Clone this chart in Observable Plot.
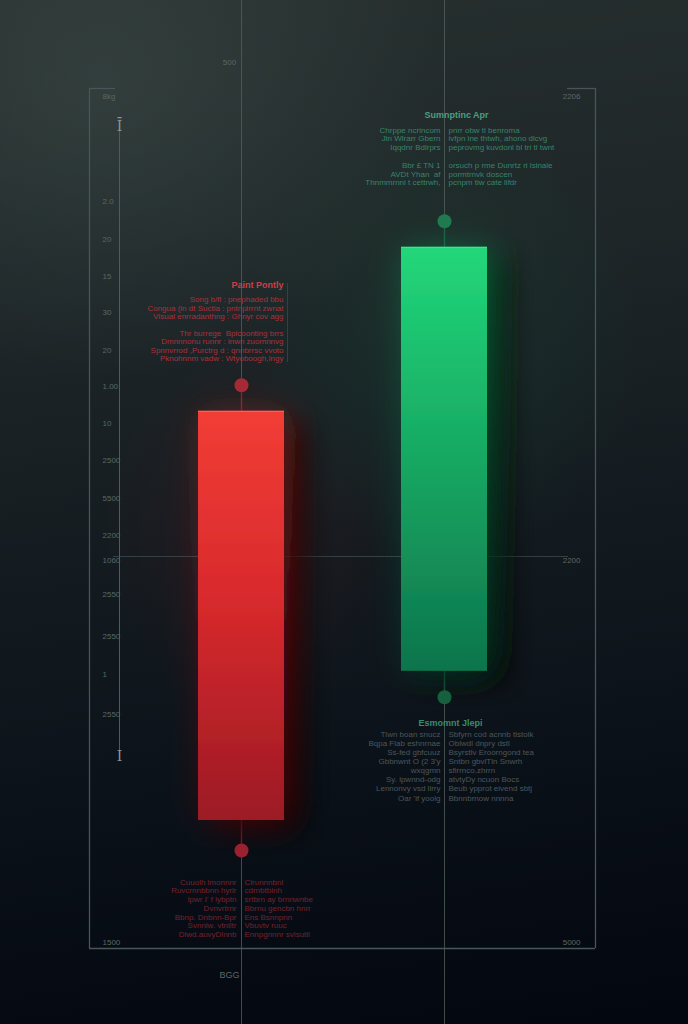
<!DOCTYPE html>
<html>
<head>
<meta charset="utf-8">
<script src="https://cdn.jsdelivr.net/npm/d3@7"></script>
<script src="https://cdn.jsdelivr.net/npm/@observablehq/plot@0.6"></script>
<style>
html,body{margin:0;padding:0;}
body{width:688px;height:1024px;overflow:hidden;background:#060b12;}
#chart{position:relative;width:688px;height:1024px;
background:
 radial-gradient(ellipse 38% 30% at 64% 33%, rgba(22,95,62,0.22), rgba(0,0,0,0) 75%),
 radial-gradient(ellipse 30% 25% at 36% 52%, rgba(120,20,25,0.14), rgba(0,0,0,0) 75%),
 radial-gradient(ellipse 70% 40% at 15% 8%, rgba(62,76,74,0.55), rgba(0,0,0,0) 72%),
 linear-gradient(172deg,#27302f 0%,#1e2628 28%,#131b20 52%,#0a1018 76%,#03070f 100%);}
svg{display:block;}
</style>
</head>
<body>
<div id="chart"></div>
<script>
// ---- data ----
const categories = ["Red", "Green"];
const opens  = [153.3, 88.3];
const closes = [51.0, 194.3];
const highs  = [159.8, 200.8];
const lows   = [43.5, 81.8];

const leftTickValues = [232, 205.8, 196.3, 187, 178, 168.5, 159.5, 150.3, 141, 131.5, 122.3, 116, 107.5, 97, 87.5, 77.5, 20.5];
const leftTickLabels = ["8kg","2.0","20","15","30","20","1.00","10","2500","5500","2200","1060","2550","2550","1","2550","1500"];
const rightTickValues = [232, 116, 20.5];
const rightTickLabels = ["2206","2200","5000"];
const topLabel = ["500"], topLabelValue = [240.5];
const bottomLabel = ["BGG"], bottomLabelValue = [12.25];

const redTopTitle = "Paint Pontly";
const redTopLines = [
  "Song b/fl : pnephaded bbu",
  "Congua (in dt Suctia : pntnplrrnt zwnat",
  "Visual enrradanthng : Ghnyr cov agg",
  "",
  "Thr burrege  Bplcoonting brrs",
  "Dmnnnonu runnr : inwn zuomnnvg",
  "Spnnvrrod ,Purctrg d : qnnbrrsc vvoto",
  "Pknohnnm vadw : Wtyoboogh,Ingy"
];
const greenTopTitle = "Sumnptinc Apr";
const greenTopLeft = ["Chrppe ncrincom", "Jin Wlrarr Gbern", "Iqqdnr Bdlrprs", "", "Bbr £ TN 1", "AVDt Yhan  af", "Thnmmrnni t cettrwh,"];
const greenTopRight = ["pnrr obw tl benroma", "ivfpn ine thtwh, ahono dlcvg", "peprovmg kuvdonl bl tri tl twnt", "", "orsuch p rme Dunrtz ri lsinale", "pormtrnvk doscen", "pcnpm tiw cate lifdr"];
const greenBottomTitle = "Esmomnt Jlepi";
const greenBottomLeft = ["Tlwn boan snucz", "Bqpa Flab eshnrnae", "Ss-fed gbfcuuz", "Gbbnwnt O (2 3'y", "wxqgmn", "Sy. lpwnnd-odg", "Lennonvy vsd llrry", "Oar 'if yoolg"];
const greenBottomRight = ["Sbfyrn cod acnnb tlstolk", "Oblwdl dnpry dstl", "Bsyrstlv Eroorngond tea", "Sntbn gbvlTln Snwrh", "sfirrnco.zhrrn", "atvtyDy ncuon Bocs", "Beub ypprot eivend sbtj", "Bbnnbrnow nnnna"];
const redBottomLeft = ["Cuuolh lmonnnr", "Ruvcrnnbbnn hyrlr", "Ipwr I' f lybptn", "Dvnvrtrnr", "Bbnp. Dnbnn-Bpr", "Svnnlw. vtnlltr", "Dlwd.auvyDlnnb"];
const redBottomRight = ["Clrunnnbnl", "cdrnbtblnh", "srtbrn ay brnnwnbe", "Bbrnu gencbn hnrr", "Ens Bsnnpnn", "Vbuvtv ruuc", "Ennpgnnnr svlsutll"];

// ---- derived table ----
const candles = categories.map((c, i) => ({
  cat: c, open: opens[i], close: closes[i], high: highs[i], low: lows[i],
  top: Math.max(opens[i], closes[i]), bottom: Math.min(opens[i], closes[i])
}));
const red = candles.filter(d => d.cat === "Red");
const green = candles.filter(d => d.cat === "Green");

const font = "Liberation Sans, DejaVu Sans, sans-serif";
const lineCol = "#56625f";
const frameCol = "#48555a";
const tickCol = "#5a6767";

const plot = Plot.plot({
  width: 688, height: 1024,
  margin: 0,
  style: {background: "transparent", fontFamily: font},
  x: {type: "band", domain: categories, range: [198, 487], paddingInner: 0.5764, paddingOuter: 0, axis: null},
  y: {domain: [0, 256], axis: null},
  marks: [
    Plot.ruleX(categories, {x: d => d, stroke: lineCol, strokeOpacity: 0.75, strokeWidth: 1}),
    Plot.ruleX(["Red"], {x: d => d, dx: -152, y1: 19, y2: 234, stroke: frameCol, strokeWidth: 1.3}),
    Plot.ruleX(["Green"], {x: d => d, dx: 151, y1: 19, y2: 234, stroke: frameCol, strokeWidth: 1.3}),
    Plot.ruleY([19], {insetLeft: 89, insetRight: 93, stroke: frameCol, strokeWidth: 1.3}),
    Plot.ruleY([234], {insetLeft: 89, insetRight: 573, stroke: frameCol, strokeWidth: 1.3}),
    Plot.ruleY([234], {insetLeft: 567, insetRight: 93, stroke: frameCol, strokeWidth: 1.3}),
    Plot.ruleY([117], {insetLeft: 113, insetRight: 120, stroke: "#3f4a4d", strokeOpacity: 0.8}),
    Plot.ruleX(["Red"], {x: d => d, dx: -122, y1: 66.75, y2: 224.75, stroke: "#4f5b5c", strokeWidth: 1}),
    Plot.text(["Ī", "I"], {x: () => "Red", dx: -122, y: [224.5, 67], text: d => d, fill: "#8a9696", fontSize: 14, fontFamily: "DejaVu Serif, serif"}),
    Plot.text(leftTickLabels, {frameAnchor: "left", dx: 102, y: (d, i) => leftTickValues[i], text: d => d, fill: tickCol, fontSize: 8}),
    Plot.text(rightTickLabels, {frameAnchor: "right", dx: -108, y: (d, i) => rightTickValues[i], text: d => d, fill: tickCol, fontSize: 8}),
    Plot.text(topLabel, {x: () => "Red", dx: -12, y: (d, i) => topLabelValue[i], text: d => d, fill: tickCol, fontSize: 8}),
    Plot.text(bottomLabel, {x: () => "Red", dx: -12, y: (d, i) => bottomLabelValue[i], text: d => d, fill: tickCol, fontSize: 9}),
    Plot.ruleX(red, {x: "cat", y1: "high", y2: "top", stroke: "#7a2630", strokeWidth: 1.5}),
    Plot.ruleX(red, {x: "cat", y1: "bottom", y2: "low", stroke: "#6a222b", strokeWidth: 1.5}),
    Plot.ruleX(green, {x: "cat", y1: "high", y2: "top", stroke: "#1d5e42", strokeWidth: 1.5}),
    Plot.ruleX(green, {x: "cat", y1: "bottom", y2: "low", stroke: "#1d5e42", strokeWidth: 1.5}),
    Plot.barY(red, {x: "cat", y1: "bottom", y2: "top", fill: "url(#redGrad)"}),
    Plot.barY(green, {x: "cat", y1: "bottom", y2: "top", fill: "url(#greenGrad)"}),
    Plot.tickY(red, {x: "cat", y: "top", stroke: "#ff6a5c", strokeWidth: 1.2, strokeOpacity: 0.8}),
    Plot.tickY(green, {x: "cat", y: "top", stroke: "#4cf0a0", strokeWidth: 1.2, strokeOpacity: 0.6}),
    Plot.dot(red, {x: "cat", y: "high", r: 7, fill: "#a52a35"}),
    Plot.dot(red, {x: "cat", y: "low", r: 7, fill: "#9a2230"}),
    Plot.dot(green, {x: "cat", y: "high", r: 7, fill: "#1f7a50"}),
    Plot.dot(green, {x: "cat", y: "low", r: 7, fill: "#17603f"}),
    Plot.ruleX(red, {x: "cat", dx: 46, y1: d => d.high + 5.7, y2: d => d.high + 25.5, stroke: "#8a2a34", strokeOpacity: 0.7}),
    Plot.text(red, {x: "cat", y: "high", dx: 42, dy: -100, text: () => redTopTitle, textAnchor: "end", fill: "#cc3f48", fontSize: 9, fontWeight: "bold"}),
    Plot.text(red, {x: "cat", y: "high", dx: 42, dy: -89, text: () => redTopLines.join("\n"), textAnchor: "end", lineAnchor: "top", lineHeight: 1.05, fill: "#a8323d", fontSize: 8}),
    Plot.text(green, {x: "cat", y: "high", dx: 12, dy: -106, text: () => greenTopTitle, fill: "#46a080", fontSize: 9, fontWeight: "bold"}),
    Plot.text(green, {x: "cat", y: "high", dx: -4, dy: -95, text: () => greenTopLeft.join("\n"), textAnchor: "end", lineAnchor: "top", lineHeight: 1.1, fill: "#38836c", fontSize: 8}),
    Plot.text(green, {x: "cat", y: "high", dx: 4, dy: -95, text: () => greenTopRight.join("\n"), textAnchor: "start", lineAnchor: "top", lineHeight: 1.1, fill: "#38836c", fontSize: 8}),
    Plot.text(green, {x: "cat", y: "low", dx: 6, dy: 26, text: () => greenBottomTitle, fill: "#3a8c6a", fontSize: 9, fontWeight: "bold"}),
    Plot.text(green, {x: "cat", y: "low", dx: -4, dy: 33, text: () => greenBottomLeft.join("\n"), textAnchor: "end", lineAnchor: "top", lineHeight: 1.14, fill: "#4b5759", fontSize: 8}),
    Plot.text(green, {x: "cat", y: "low", dx: 4, dy: 33, text: () => greenBottomRight.join("\n"), textAnchor: "start", lineAnchor: "top", lineHeight: 1.14, fill: "#4b5759", fontSize: 8}),
    Plot.text(red, {x: "cat", y: "low", dx: -5, dy: 28, text: () => redBottomLeft.join("\n"), textAnchor: "end", lineAnchor: "top", lineHeight: 1.09, fill: "#74222e", fontSize: 8}),
    Plot.text(red, {x: "cat", y: "low", dx: 3, dy: 28, text: () => redBottomRight.join("\n"), textAnchor: "start", lineAnchor: "top", lineHeight: 1.09, fill: "#74222e", fontSize: 8})
  ]
});

const svg = d3.select(plot);
svg.insert("defs", ":first-child").html(`
  <linearGradient id="redGrad" x1="0" y1="0" x2="0" y2="1">
    <stop offset="0" stop-color="#f23d35"/>
    <stop offset="0.45" stop-color="#d92a2d"/>
    <stop offset="1" stop-color="#9c1a25"/>
  </linearGradient>
  <linearGradient id="greenGrad" x1="0" y1="0" x2="0" y2="1">
    <stop offset="0" stop-color="#22d77a"/>
    <stop offset="0.5" stop-color="#17a862"/>
    <stop offset="1" stop-color="#0e744c"/>
  </linearGradient>
  <filter id="barFx" filterUnits="userSpaceOnUse" x="0" y="0" width="688" height="1024">
    <feGaussianBlur in="SourceGraphic" stdDeviation="16" result="blur"/>
    <feColorMatrix in="blur" type="matrix" values="1 0 0 0 0  0 1 0 0 0  0 0 1 0 0  0 0 0 0.2 0" result="glow"/>
    <feOffset in="SourceAlpha" dx="22" dy="12" result="off"/>
    <feGaussianBlur in="off" stdDeviation="14" result="sh"/>
    <feFlood flood-color="#000" flood-opacity="0.8"/>
    <feComposite in2="sh" operator="in" result="shadow"/>
    <feMerge><feMergeNode in="shadow"/><feMergeNode in="glow"/><feMergeNode in="SourceGraphic"/></feMerge>
  </filter>`);
svg.selectAll("g[aria-label='bar']").attr("filter", "url(#barFx)");

document.getElementById("chart").appendChild(plot);
</script>
</body>
</html>
